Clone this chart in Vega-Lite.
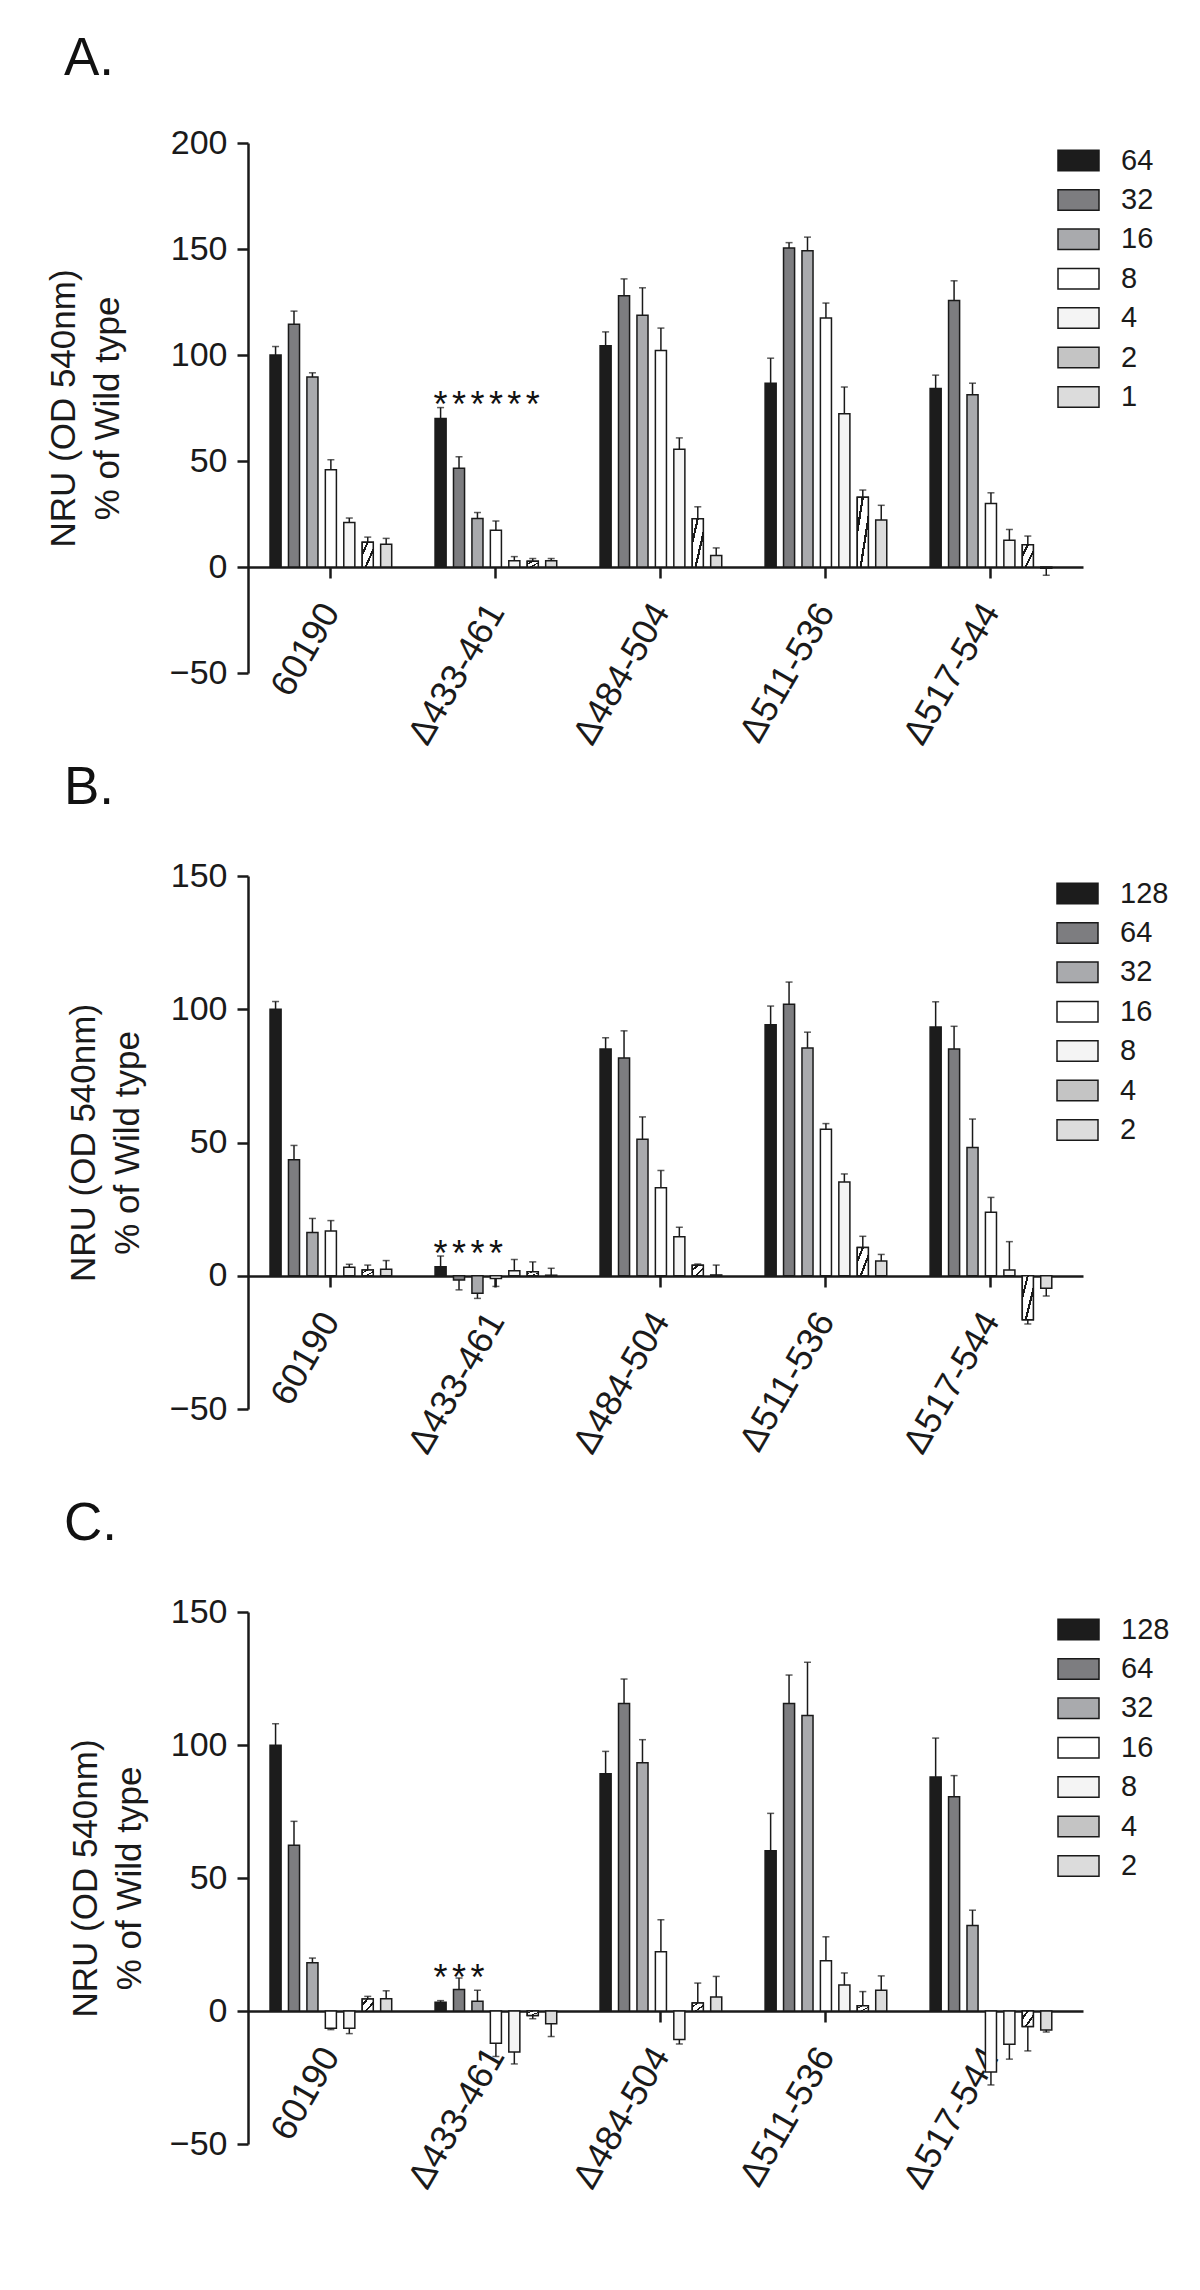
{
  "$schema": "https://vega.github.io/schema/vega-lite/v6.json",
  "padding": {"left": 46, "top": 33, "right": 10, "bottom": 10},
  "background": "white",
  "bounds": "flush",
  "spacing": 203,
  "config": {
    "font": "Liberation Sans",
    "view": {"stroke": null},
    "axis": {"grid": false, "domainColor": "#1a1a1a", "domainWidth": 2.5, "tickColor": "#1a1a1a", "tickWidth": 2.5, "tickSize": 11, "labelColor": "#1a1a1a", "titleColor": "#1a1a1a", "labelFont": "Liberation Sans", "titleFont": "Liberation Sans", "titleFontWeight": "normal"},
    "legend": {"labelFont": "Liberation Sans", "labelColor": "#1a1a1a", "padding": 0},
    "title": {"font": "Liberation Sans", "color": "#111111", "fontWeight": "normal", "anchor": "start", "frame": "group"}
  },
  "resolve": {"scale": {"x": "independent", "y": "independent", "xOffset": "independent", "color": "independent"}, "legend": {"color": "independent"}, "axis": {"x": "independent", "y": "independent"}},
  "datasets": {
    "A": [
      {"g": "60190", "d": "64", "v": 100, "e": 104},
      {"g": "60190", "d": "32", "v": 114.5, "e": 120.7},
      {"g": "60190", "d": "16", "v": 89.6, "e": 91.6},
      {"g": "60190", "d": "8", "v": 45.9, "e": 50.6},
      {"g": "60190", "d": "4", "v": 21, "e": 23.1},
      {"g": "60190", "d": "2", "v": 11.7, "e": 14.1},
      {"g": "60190", "d": "1", "v": 10.7, "e": 13.5},
      {"g": "Δ433-461", "d": "64", "v": 70.1, "e": 75.2},
      {"g": "Δ433-461", "d": "32", "v": 46.6, "e": 52},
      {"g": "Δ433-461", "d": "16", "v": 22.9, "e": 25.7},
      {"g": "Δ433-461", "d": "8", "v": 17.3, "e": 21.7},
      {"g": "Δ433-461", "d": "4", "v": 2.9, "e": 4.9},
      {"g": "Δ433-461", "d": "2", "v": 2.7, "e": 4},
      {"g": "Δ433-461", "d": "1", "v": 2.9, "e": 4},
      {"g": "Δ484-504", "d": "64", "v": 104.4, "e": 110.9},
      {"g": "Δ484-504", "d": "32", "v": 127.9, "e": 135.9},
      {"g": "Δ484-504", "d": "16", "v": 118.7, "e": 131.7},
      {"g": "Δ484-504", "d": "8", "v": 102.1, "e": 112.7},
      {"g": "Δ484-504", "d": "4", "v": 55.5, "e": 60.9},
      {"g": "Δ484-504", "d": "2", "v": 22.8, "e": 28.4},
      {"g": "Δ484-504", "d": "1", "v": 5.4, "e": 9},
      {"g": "Δ511-536", "d": "64", "v": 86.7, "e": 98.5},
      {"g": "Δ511-536", "d": "32", "v": 150.5, "e": 153},
      {"g": "Δ511-536", "d": "16", "v": 149.2, "e": 155.6},
      {"g": "Δ511-536", "d": "8", "v": 117.4, "e": 124.5},
      {"g": "Δ511-536", "d": "4", "v": 72.3, "e": 84.9},
      {"g": "Δ511-536", "d": "2", "v": 32.9, "e": 36.3},
      {"g": "Δ511-536", "d": "1", "v": 22.2, "e": 29.1},
      {"g": "Δ517-544", "d": "64", "v": 84.2, "e": 90.5},
      {"g": "Δ517-544", "d": "32", "v": 125.7, "e": 135},
      {"g": "Δ517-544", "d": "16", "v": 81.3, "e": 86.7},
      {"g": "Δ517-544", "d": "8", "v": 30, "e": 35},
      {"g": "Δ517-544", "d": "4", "v": 12.6, "e": 17.7},
      {"g": "Δ517-544", "d": "2", "v": 10.5, "e": 14.6},
      {"g": "Δ517-544", "d": "1", "v": -0.6, "e": -3.9}
    ],
    "B": [
      {"g": "60190", "d": "128", "v": 100, "e": 102.9},
      {"g": "60190", "d": "64", "v": 43.5, "e": 48.9},
      {"g": "60190", "d": "32", "v": 16.2, "e": 21.5},
      {"g": "60190", "d": "16", "v": 16.8, "e": 20.7},
      {"g": "60190", "d": "8", "v": 3.2, "e": 4.3},
      {"g": "60190", "d": "4", "v": 2.2, "e": 4},
      {"g": "60190", "d": "2", "v": 2.4, "e": 5.7},
      {"g": "Δ433-461", "d": "128", "v": 3.4, "e": 7.4},
      {"g": "Δ433-461", "d": "64", "v": -1.6, "e": -5.3},
      {"g": "Δ433-461", "d": "32", "v": -6.6, "e": -8.5},
      {"g": "Δ433-461", "d": "16", "v": -1, "e": -4},
      {"g": "Δ433-461", "d": "8", "v": 1.9, "e": 6.1},
      {"g": "Δ433-461", "d": "4", "v": 1.5, "e": 5.2},
      {"g": "Δ433-461", "d": "2", "v": 0.2, "e": 2.8},
      {"g": "Δ484-504", "d": "128", "v": 85.1, "e": 89.3},
      {"g": "Δ484-504", "d": "64", "v": 81.7, "e": 91.9},
      {"g": "Δ484-504", "d": "32", "v": 51.2, "e": 59.6},
      {"g": "Δ484-504", "d": "16", "v": 33, "e": 39.5},
      {"g": "Δ484-504", "d": "8", "v": 14.6, "e": 18.2},
      {"g": "Δ484-504", "d": "4", "v": 3.9, "e": 4.4},
      {"g": "Δ484-504", "d": "2", "v": 0.3, "e": 4},
      {"g": "Δ511-536", "d": "128", "v": 94.2, "e": 101.2},
      {"g": "Δ511-536", "d": "64", "v": 101.9, "e": 110.2},
      {"g": "Δ511-536", "d": "32", "v": 85.5, "e": 91.4},
      {"g": "Δ511-536", "d": "16", "v": 55, "e": 57.1},
      {"g": "Δ511-536", "d": "8", "v": 35.2, "e": 38.2},
      {"g": "Δ511-536", "d": "4", "v": 10.6, "e": 14.8},
      {"g": "Δ511-536", "d": "2", "v": 5.5, "e": 8},
      {"g": "Δ517-544", "d": "128", "v": 93.3, "e": 102.8},
      {"g": "Δ517-544", "d": "64", "v": 85.1, "e": 93.6},
      {"g": "Δ517-544", "d": "32", "v": 48.1, "e": 58.8},
      {"g": "Δ517-544", "d": "16", "v": 23.8, "e": 29.4},
      {"g": "Δ517-544", "d": "8", "v": 2.2, "e": 12.8},
      {"g": "Δ517-544", "d": "4", "v": -16.5, "e": -18.1},
      {"g": "Δ517-544", "d": "2", "v": -4.7, "e": -7.6}
    ],
    "C": [
      {"g": "60190", "d": "128", "v": 99.9, "e": 108},
      {"g": "60190", "d": "64", "v": 62.3, "e": 71.3},
      {"g": "60190", "d": "32", "v": 18.1, "e": 19.9},
      {"g": "60190", "d": "16", "v": -6.5, "e": -7},
      {"g": "60190", "d": "8", "v": -6.5, "e": -8.5},
      {"g": "60190", "d": "4", "v": 4.5, "e": 5.5},
      {"g": "60190", "d": "2", "v": 4.6, "e": 7.6},
      {"g": "Δ433-461", "d": "128", "v": 3.3, "e": 3.9},
      {"g": "Δ433-461", "d": "64", "v": 8.1, "e": 12.4},
      {"g": "Δ433-461", "d": "32", "v": 3.7, "e": 7.8},
      {"g": "Δ433-461", "d": "16", "v": -12.1, "e": -17.1},
      {"g": "Δ433-461", "d": "8", "v": -15.4, "e": -19.9},
      {"g": "Δ433-461", "d": "4", "v": -1.7, "e": -2.9},
      {"g": "Δ433-461", "d": "2", "v": -4.8, "e": -9.6},
      {"g": "Δ484-504", "d": "128", "v": 89.2, "e": 97.6},
      {"g": "Δ484-504", "d": "64", "v": 115.6, "e": 124.8},
      {"g": "Δ484-504", "d": "32", "v": 93.3, "e": 102},
      {"g": "Δ484-504", "d": "16", "v": 22.3, "e": 34.3},
      {"g": "Δ484-504", "d": "8", "v": -10.7, "e": -12.4},
      {"g": "Δ484-504", "d": "4", "v": 3, "e": 10.5},
      {"g": "Δ484-504", "d": "2", "v": 5.3, "e": 13},
      {"g": "Δ511-536", "d": "128", "v": 60.2, "e": 74.3},
      {"g": "Δ511-536", "d": "64", "v": 115.6, "e": 126.3},
      {"g": "Δ511-536", "d": "32", "v": 111.1, "e": 131.1},
      {"g": "Δ511-536", "d": "16", "v": 18.9, "e": 27.9},
      {"g": "Δ511-536", "d": "8", "v": 9.8, "e": 14.3},
      {"g": "Δ511-536", "d": "4", "v": 2, "e": 7.3},
      {"g": "Δ511-536", "d": "2", "v": 7.8, "e": 13.2},
      {"g": "Δ517-544", "d": "128", "v": 88, "e": 102.6},
      {"g": "Δ517-544", "d": "64", "v": 80.5, "e": 88.5},
      {"g": "Δ517-544", "d": "32", "v": 32.1, "e": 37.9},
      {"g": "Δ517-544", "d": "16", "v": -22.9, "e": -27.8},
      {"g": "Δ517-544", "d": "8", "v": -12.5, "e": -18.1},
      {"g": "Δ517-544", "d": "4", "v": -5.8, "e": -15},
      {"g": "Δ517-544", "d": "2", "v": -7.1, "e": -7.9}
    ],
    "As": [
      {"g": "Δ433-461", "d": "64", "v": 80.7},
      {"g": "Δ433-461", "d": "32", "v": 80.7},
      {"g": "Δ433-461", "d": "16", "v": 80.7},
      {"g": "Δ433-461", "d": "8", "v": 80.7},
      {"g": "Δ433-461", "d": "4", "v": 80.7},
      {"g": "Δ433-461", "d": "2", "v": 80.7}
    ],
    "Bs": [
      {"g": "Δ433-461", "d": "128", "v": 11.5},
      {"g": "Δ433-461", "d": "64", "v": 11.5},
      {"g": "Δ433-461", "d": "32", "v": 11.5},
      {"g": "Δ433-461", "d": "16", "v": 11.5}
    ],
    "Cs": [
      {"g": "Δ433-461", "d": "128", "v": 15.7},
      {"g": "Δ433-461", "d": "64", "v": 15.7},
      {"g": "Δ433-461", "d": "32", "v": 15.7}
    ]
  },
  "vconcat": [
    {
      "width": 835, "height": 530,
      "title": {"text": "A.", "fontSize": 53, "dx": -184, "offset": 40},
      "data": {"name": "A"},
      "encoding": {
        "x": {"field": "g", "type": "nominal", "sort": null, "scale": {"paddingInner": 0.218, "paddingOuter": 0.139, "align": 0.4},
              "axis": {"title": null, "offset": -106, "labelAngle": -60, "labelAlign": "right", "labelBaseline": "middle", "labelFontSize": 36, "labelPadding": 28}},
        "xOffset": {"field": "d", "type": "nominal", "sort": ["64", "32", "16", "8", "4", "2", "1"], "scale": {"paddingInner": 0.4, "paddingOuter": 0.2}}
      },
      "layer": [
        {"mark": {"type": "bar", "stroke": "#1a1a1a", "strokeWidth": 1.5},
         "encoding": {
           "y": {"field": "v", "type": "quantitative", "scale": {"domain": [-50, 200], "nice": false, "zero": false},
              "axis": {"title": ["NRU (OD 540nm)", "% of Wild type"], "values": [-50, 0, 50, 100, 150, 200], "labelFontSize": 34, "labelPadding": 10, "titleFontSize": 35, "titleLineHeight": 44, "titlePadding": 44}},
           "color": {"field": "d", "type": "nominal", "sort": ["64", "32", "16", "8", "4", "2", "1"],
           "scale": {"domain": ["64", "32", "16", "8", "4", "2", "1"], "range": ["#1c1c1c", "#7d7d80", "#a9aaad", "#ffffff", "#f4f4f4", "#c4c4c4", "#dcdcdc"]},
           "legend": {"title": null, "orient": "none", "legendX": 809, "legendY": -4, "symbolType": "M-1,-0.5H1V0.5H-1Z", "symbolSize": 1681, "symbolStrokeColor": "#1a1a1a", "symbolStrokeWidth": 1.5, "symbolOpacity": 1, "labelFontSize": 29, "labelOffset": 21, "rowPadding": 2.4}}}},
        {"transform": [{"filter": "datum.d == '2'"}],
         "mark": {"type": "bar", "stroke": "#1a1a1a", "strokeWidth": 1.5,
           "fill": {"gradient": "linear", "x1": 0, "y1": 0, "x2": 1, "y2": 1, "stops": [
             {"offset": 0, "color": "#ffffff"}, {"offset": 0.2, "color": "#ffffff"}, {"offset": 0.2, "color": "#1a1a1a"}, {"offset": 0.3, "color": "#1a1a1a"}, {"offset": 0.3, "color": "#ffffff"}, {"offset": 0.6, "color": "#ffffff"}, {"offset": 0.6, "color": "#1a1a1a"}, {"offset": 0.7, "color": "#1a1a1a"}, {"offset": 0.7, "color": "#ffffff"}, {"offset": 1, "color": "#ffffff"}]}},
         "encoding": {"y": {"field": "v", "type": "quantitative"}}},
        {"mark": {"type": "rule", "color": "#1a1a1a", "strokeWidth": 1.5}, "encoding": {"y": {"field": "v", "type": "quantitative"}, "y2": {"field": "e"}}},
        {"mark": {"type": "tick", "color": "#1a1a1a", "thickness": 1.5, "size": 7}, "encoding": {"y": {"field": "e", "type": "quantitative", "title": ["NRU (OD 540nm)", "% of Wild type"]}}},
        {"data": {"name": "As"}, "mark": {"type": "text", "text": "*", "fontSize": 36, "dy": 10, "color": "#111111"}, "encoding": {"y": {"field": "v", "type": "quantitative"}}}
      ]
    },
    {
      "width": 835, "height": 533,
      "title": {"text": "B.", "fontSize": 53, "dx": -184, "offset": 44},
      "data": {"name": "B"},
      "encoding": {
        "x": {"field": "g", "type": "nominal", "sort": null, "scale": {"paddingInner": 0.218, "paddingOuter": 0.139, "align": 0.4},
              "axis": {"title": null, "offset": -133, "labelAngle": -60, "labelAlign": "right", "labelBaseline": "middle", "labelFontSize": 36, "labelPadding": 28}},
        "xOffset": {"field": "d", "type": "nominal", "sort": ["128", "64", "32", "16", "8", "4", "2"], "scale": {"paddingInner": 0.4, "paddingOuter": 0.2}}
      },
      "layer": [
        {"mark": {"type": "bar", "stroke": "#1a1a1a", "strokeWidth": 1.5},
         "encoding": {
           "y": {"field": "v", "type": "quantitative", "scale": {"domain": [-50, 150], "nice": false, "zero": false},
              "axis": {"title": ["NRU (OD 540nm)", "% of Wild type"], "values": [-50, 0, 50, 100, 150], "labelFontSize": 34, "labelPadding": 10, "titleFontSize": 35, "titleLineHeight": 44, "titlePadding": 24}},
           "color": {"field": "d", "type": "nominal", "sort": ["128", "64", "32", "16", "8", "4", "2"],
           "scale": {"domain": ["128", "64", "32", "16", "8", "4", "2"], "range": ["#1c1c1c", "#7d7d80", "#a9aaad", "#ffffff", "#f4f4f4", "#c4c4c4", "#dcdcdc"]},
           "legend": {"title": null, "orient": "none", "legendX": 808, "legendY": -4, "symbolType": "M-1,-0.5H1V0.5H-1Z", "symbolSize": 1681, "symbolStrokeColor": "#1a1a1a", "symbolStrokeWidth": 1.5, "symbolOpacity": 1, "labelFontSize": 29, "labelOffset": 21, "rowPadding": 2.4}}}},
        {"transform": [{"filter": "datum.d == '4'"}],
         "mark": {"type": "bar", "stroke": "#1a1a1a", "strokeWidth": 1.5,
           "fill": {"gradient": "linear", "x1": 0, "y1": 0, "x2": 1, "y2": 1, "stops": [
             {"offset": 0, "color": "#ffffff"}, {"offset": 0.2, "color": "#ffffff"}, {"offset": 0.2, "color": "#1a1a1a"}, {"offset": 0.3, "color": "#1a1a1a"}, {"offset": 0.3, "color": "#ffffff"}, {"offset": 0.6, "color": "#ffffff"}, {"offset": 0.6, "color": "#1a1a1a"}, {"offset": 0.7, "color": "#1a1a1a"}, {"offset": 0.7, "color": "#ffffff"}, {"offset": 1, "color": "#ffffff"}]}},
         "encoding": {"y": {"field": "v", "type": "quantitative"}}},
        {"mark": {"type": "rule", "color": "#1a1a1a", "strokeWidth": 1.5}, "encoding": {"y": {"field": "v", "type": "quantitative"}, "y2": {"field": "e"}}},
        {"mark": {"type": "tick", "color": "#1a1a1a", "thickness": 1.5, "size": 7}, "encoding": {"y": {"field": "e", "type": "quantitative", "title": ["NRU (OD 540nm)", "% of Wild type"]}}},
        {"data": {"name": "Bs"}, "mark": {"type": "text", "text": "*", "fontSize": 36, "dy": 10, "color": "#111111"}, "encoding": {"y": {"field": "v", "type": "quantitative"}}}
      ]
    },
    {
      "width": 835, "height": 532,
      "title": {"text": "C.", "fontSize": 53, "dx": -184, "offset": 44},
      "data": {"name": "C"},
      "encoding": {
        "x": {"field": "g", "type": "nominal", "sort": null, "scale": {"paddingInner": 0.218, "paddingOuter": 0.139, "align": 0.4},
              "axis": {"title": null, "offset": -133, "labelAngle": -60, "labelAlign": "right", "labelBaseline": "middle", "labelFontSize": 36, "labelPadding": 28}},
        "xOffset": {"field": "d", "type": "nominal", "sort": ["128", "64", "32", "16", "8", "4", "2"], "scale": {"paddingInner": 0.4, "paddingOuter": 0.2}}
      },
      "layer": [
        {"mark": {"type": "bar", "stroke": "#1a1a1a", "strokeWidth": 1.5},
         "encoding": {
           "y": {"field": "v", "type": "quantitative", "scale": {"domain": [-50, 150], "nice": false, "zero": false},
              "axis": {"title": ["NRU (OD 540nm)", "% of Wild type"], "values": [-50, 0, 50, 100, 150], "labelFontSize": 34, "labelPadding": 10, "titleFontSize": 35, "titleLineHeight": 44, "titlePadding": 22}},
           "color": {"field": "d", "type": "nominal", "sort": ["128", "64", "32", "16", "8", "4", "2"],
           "scale": {"domain": ["128", "64", "32", "16", "8", "4", "2"], "range": ["#1c1c1c", "#7d7d80", "#a9aaad", "#ffffff", "#f4f4f4", "#c4c4c4", "#dcdcdc"]},
           "legend": {"title": null, "orient": "none", "legendX": 809, "legendY": -4, "symbolType": "M-1,-0.5H1V0.5H-1Z", "symbolSize": 1681, "symbolStrokeColor": "#1a1a1a", "symbolStrokeWidth": 1.5, "symbolOpacity": 1, "labelFontSize": 29, "labelOffset": 21, "rowPadding": 2.4}}}},
        {"transform": [{"filter": "datum.d == '4'"}],
         "mark": {"type": "bar", "stroke": "#1a1a1a", "strokeWidth": 1.5,
           "fill": {"gradient": "linear", "x1": 0, "y1": 0, "x2": 1, "y2": 1, "stops": [
             {"offset": 0, "color": "#ffffff"}, {"offset": 0.2, "color": "#ffffff"}, {"offset": 0.2, "color": "#1a1a1a"}, {"offset": 0.3, "color": "#1a1a1a"}, {"offset": 0.3, "color": "#ffffff"}, {"offset": 0.6, "color": "#ffffff"}, {"offset": 0.6, "color": "#1a1a1a"}, {"offset": 0.7, "color": "#1a1a1a"}, {"offset": 0.7, "color": "#ffffff"}, {"offset": 1, "color": "#ffffff"}]}},
         "encoding": {"y": {"field": "v", "type": "quantitative"}}},
        {"mark": {"type": "rule", "color": "#1a1a1a", "strokeWidth": 1.5}, "encoding": {"y": {"field": "v", "type": "quantitative"}, "y2": {"field": "e"}}},
        {"mark": {"type": "tick", "color": "#1a1a1a", "thickness": 1.5, "size": 7}, "encoding": {"y": {"field": "e", "type": "quantitative", "title": ["NRU (OD 540nm)", "% of Wild type"]}}},
        {"data": {"name": "Cs"}, "mark": {"type": "text", "text": "*", "fontSize": 36, "dy": 10, "color": "#111111"}, "encoding": {"y": {"field": "v", "type": "quantitative"}}}
      ]
    }
  ]
}
